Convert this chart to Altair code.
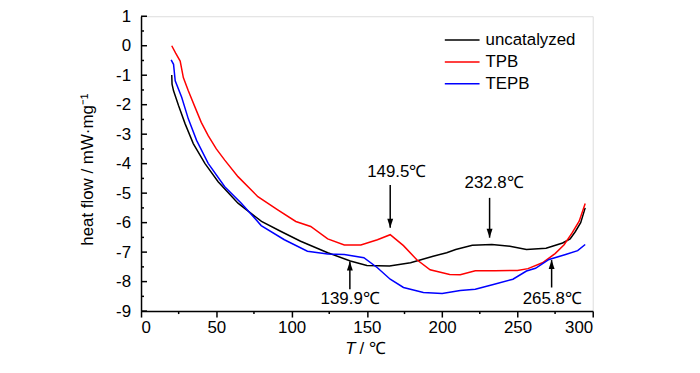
import altair as alt
import pandas as pd

# ---- data ----
series = ["uncatalyzed", "TPB", "TEPB"]
colors = ["#000000", "#ff0000", "#0000ff"]

black_x = [20.4, 20.6, 21.6, 24.9, 29.3, 34.7, 42.4, 51.2, 64.4, 80, 93, 106, 124, 139, 150,
           165, 179, 194, 203, 209, 220, 233, 245, 256, 269, 280, 285, 288.5, 292, 295]
black_y = [-0.99, -1.3, -1.53, -2.03, -2.65, -3.32, -3.99, -4.61, -5.34, -5.96, -6.3, -6.63, -7.02, -7.3, -7.45,
           -7.47, -7.36, -7.14, -7.02, -6.91, -6.77, -6.74, -6.8, -6.91, -6.87, -6.69, -6.55, -6.3, -6.0, -5.5]

red_x = [20.4, 23, 26, 28.1, 31.4, 35.9, 40, 44.6, 50, 55.6, 64.4, 77.6, 90.8, 102.8, 112.7, 124, 135, 146, 157,
         165.5, 174.3, 183, 192, 205, 212, 222, 235, 250, 257, 266.6, 275, 281, 286.3, 291, 295]
red_y = [0, -0.25, -0.52, -1.08, -1.53, -2.09, -2.6, -3.05, -3.5, -3.88, -4.44, -5.12, -5.57, -5.96, -6.13,
         -6.55, -6.76, -6.76, -6.58,
         -6.41, -6.78, -7.25, -7.6, -7.76, -7.77, -7.63, -7.63, -7.62, -7.56, -7.36, -7.05, -6.75, -6.35, -5.95, -5.35]

blue_x = [20, 21.6, 22.7, 27, 31.4, 36.9, 44.6, 55.6, 66.6, 79.8, 95.2, 110.5, 124, 135, 148,
          157, 165.5, 174.3, 187.5, 200, 212, 222, 234, 247, 256, 262, 271, 282, 290, 295]
blue_y = [-0.48, -0.63, -1.19, -1.75, -2.48, -3.21, -3.99, -4.78, -5.34, -6.1, -6.58, -6.97, -7.06, -7.08, -7.19,
          -7.53, -7.92, -8.2, -8.37, -8.4, -8.3, -8.26, -8.1, -7.92, -7.64, -7.55, -7.25, -7.08, -6.95, -6.74]

x_ticks = [0, 50, 100, 150, 200, 250, 300]
x_minor = [25, 75, 125, 175, 225, 275]
y_ticks = [-9, -8, -7, -6, -5, -4, -3, -2, -1, 0, 1]
y_minor = [-8.5, -7.5, -6.5, -5.5, -4.5, -3.5, -2.5, -1.5, -0.5, 0.5]

ann_text = ["149.5℃", "232.8℃", "139.9℃", "265.8℃"]
ann_x = [165.5, 231.5, 138.7, 272.7]
ann_tail = [-4.72, -5.16, -8.26, -8.2]
ann_head = [-6.17, -6.51, -7.32, -7.27]
ann_dir = ["down", "down", "up", "up"]
label_x = [169.9, 234.5, 138.9, 273.1]
label_y = [-4.29, -4.66, -8.6, -8.6]

# ---- build tables ----
rows = []
for name, xs, ys in [("uncatalyzed", black_x, black_y), ("TPB", red_x, red_y), ("TEPB", blue_x, blue_y)]:
    for i, (a, b) in enumerate(zip(xs, ys)):
        rows.append({"series": name, "T": a, "hf": b, "order": i})
df = pd.DataFrame(rows)

ann = pd.DataFrame({"text": ann_text, "x": ann_x, "tail": ann_tail, "head": ann_head,
                    "dir": ann_dir, "lx": label_x, "ly": label_y})

W, H = 455, 297
FONT = "Liberation Sans"
FS = 17

xs_ = alt.Scale(domain=[0, 300], nice=False, zero=False)
ys_ = alt.Scale(domain=[-9, 1], nice=False, zero=False)

x_axis = alt.Axis(values=x_ticks, grid=False, tickSize=6, tickWidth=1.5, tickColor="black",
                  domainColor="black", domainWidth=1.5, labelFont=FONT, labelFontSize=FS,
                  labelColor="black", labelPadding=3, labelExpr="datum.value + ''", title=None)
y_axis = alt.Axis(values=y_ticks, grid=False, tickSize=0, domainColor="black", domainWidth=1.5,
                  labelFont=FONT, labelFontSize=FS, labelColor="black", labelPadding=10.5,
                  labelExpr="datum.value + ''",
                  title="heat flow / mW·mg⁻¹", titleFont=FONT, titleFontSize=FS,
                  titleFontWeight="normal", titleColor="black", titleX=-54, titleY=154,
                  titleAngle=-90, titleAlign="center", titleBaseline="middle")


def X(field):
    return alt.X(field, scale=xs_, axis=x_axis)


def Y(field):
    return alt.Y(field, scale=ys_, axis=y_axis)


lines = alt.Chart(df).mark_line(strokeWidth=1.5, clip=True).encode(
    x=X("T:Q"),
    y=Y("hf:Q"),
    color=alt.Color("series:N", scale=alt.Scale(domain=series, range=colors), legend=None),
    order="order:Q",
)

ymaj = alt.Chart(pd.DataFrame({"hf": y_ticks})).mark_rule(color="black", strokeWidth=1.5).encode(
    y=Y("hf:Q"), x=alt.value(0), x2=alt.value(6))
ymin = alt.Chart(pd.DataFrame({"hf": y_minor})).mark_rule(color="black", strokeWidth=1.5).encode(
    y=Y("hf:Q"), x=alt.value(0), x2=alt.value(3))
xmin = alt.Chart(pd.DataFrame({"T": x_minor})).mark_rule(color="black", strokeWidth=1.5).encode(
    x=X("T:Q"), y=alt.value(H), y2=alt.value(H + 3))

arrows = alt.Chart(ann).mark_rule(color="black", strokeWidth=1.5).encode(
    x=X("x:Q"), y=Y("tail:Q"), y2="head:Q")
heads_down = alt.Chart(ann).transform_filter("datum.dir == 'down'").mark_point(
    shape="M0,0L-0.33,-1L0.33,-1Z", filled=True, size=324, color="black", opacity=1, strokeWidth=0).encode(
    x=X("x:Q"), y=Y("head:Q"))
heads_up = alt.Chart(ann).transform_filter("datum.dir == 'up'").mark_point(
    shape="M0,0L-0.33,1L0.33,1Z", filled=True, size=324, color="black", opacity=1, strokeWidth=0).encode(
    x=X("x:Q"), y=Y("head:Q"))
labels = alt.Chart(ann).mark_text(font=FONT, fontSize=FS, color="black", align="center",
                                  baseline="middle").encode(
    x=X("lx:Q"), y=Y("ly:Q"), text="text:N")

# x-axis title with italic T
xt_T = alt.Chart(pd.DataFrame({"t": ["T"]})).mark_text(
    font=FONT, fontSize=FS, fontStyle="italic", color="black", align="center", baseline="middle").encode(
    x=alt.value(211), y=alt.value(335), text="t:N")
xt_rest = alt.Chart(pd.DataFrame({"t": ["/ ℃"]})).mark_text(
    font=FONT, fontSize=FS, color="black", align="left", baseline="middle").encode(
    x=alt.value(220), y=alt.value(335), text="t:N")

# legend (top-right inside)
leg_layers = []
for i, (name, col) in enumerate(zip(series, colors)):
    yy = 24 + i * 22
    leg_layers.append(alt.Chart(pd.DataFrame({"s": [name]})).mark_rule(color=col, strokeWidth=1.5).encode(
        x=alt.value(306), x2=alt.value(341), y=alt.value(yy)))
    leg_layers.append(alt.Chart(pd.DataFrame({"s": [name]})).mark_text(
        font=FONT, fontSize=FS, color="black", align="left", baseline="middle").encode(
        x=alt.value(347), y=alt.value(yy), text="s:N"))

chart = alt.layer(lines, ymaj, ymin, xmin, arrows, heads_down, heads_up, labels,
                  xt_T, xt_rest, *leg_layers).properties(
    width=W, height=H, autosize=alt.AutoSizeParams(type="none"),
    padding={"left": 134, "top": 7, "right": 100, "bottom": 53},
).configure_view(stroke="black", strokeWidth=1.5).configure(background="white")

chart.save("out.html", embed_options={"renderer": "svg", "actions": False})
